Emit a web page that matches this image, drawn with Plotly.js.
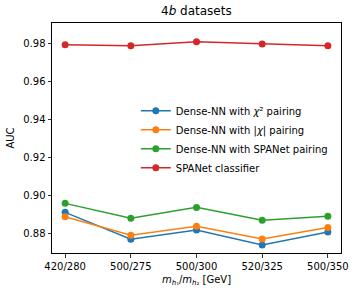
<!DOCTYPE html>
<html>
<head>
<meta charset="utf-8">
<script src="https://cdn.plot.ly/plotly-3.0.1.min.js"></script>
<style>html,body{margin:0;padding:0;background:#fff;}#chart{width:357px;height:294px;}</style>
</head>
<body>
<div id="chart"></div>
<script>
var categories = ["420/280", "500/275", "500/300", "520/325", "500/350"];
var chi2Values = [0.8913, 0.8772, 0.8821, 0.8742, 0.8810];
var absChiValues = [0.8890, 0.8793, 0.8840, 0.8774, 0.8833];
var spanetPairValues = [0.8960, 0.8882, 0.8939, 0.8871, 0.8892];
var spanetClassValues = [0.9791, 0.9786, 0.9807, 0.9795, 0.9786];
var seriesNames = ["Dense-NN with <i>χ</i>² pairing", "Dense-NN with |<i>χ</i>| pairing", "Dense-NN with SPANet pairing", "SPANet classifier"];
var colors = ["#1f77b4", "#ff7f0e", "#2ca02c", "#d62728"];
var yTicks = [0.88, 0.90, 0.92, 0.94, 0.96, 0.98];
var yTickText = ["0.88", "0.90", "0.92", "0.94", "0.96", "0.98"];

var xIdx = categories.map(function(_, i){ return i; });
var allVals = [chi2Values, absChiValues, spanetPairValues, spanetClassValues];
var traces = allVals.map(function(v, k){
  return {
    x: xIdx, y: v, name: seriesNames[k], type: "scatter", mode: "lines+markers",
    line: {color: colors[k], width: 1.5},
    marker: {color: colors[k], size: 7}
  };
});
var font = {family: "DejaVu Sans, sans-serif", size: 10, color: "#000"};
var layout = {
  width: 357, height: 294,
  margin: {l: 52, r: 16, t: 23, b: 41},
  paper_bgcolor: "#fff", plot_bgcolor: "#fff",
  font: font,
  showlegend: true,
  title: {text: "4<i>b</i> datasets", font: {family: "DejaVu Sans, sans-serif", size: 12, color: "#000"}, x: 0.55, xanchor: "center", y: 0.962, yanchor: "middle"},
  xaxis: {
    range: [-0.2, 4.2], tickmode: "array", tickvals: xIdx, ticktext: categories,
    showgrid: false, zeroline: false, showline: true, mirror: true, linecolor: "#000", linewidth: 1,
    ticks: "outside", ticklen: 3.5, tickcolor: "#000", tickwidth: 0.8, tickfont: font,
    title: {text: "<i>m</i><sub><i>h</i>₁</sub>/<i>m</i><sub><i>h</i>₂</sub> [GeV]", font: font, standoff: 5}
  },
  yaxis: {
    range: [0.8700, 0.9905], tickmode: "array", tickvals: yTicks, ticktext: yTickText,
    showgrid: false, zeroline: false, showline: true, mirror: true, linecolor: "#000", linewidth: 1,
    ticks: "outside", ticklen: 3.5, tickcolor: "#000", tickwidth: 0.8, tickfont: font,
    title: {text: "AUC", font: font, standoff: 6}
  },
  legend: {x: 0.29, y: 0.682, xanchor: "left", yanchor: "top", bgcolor: "rgba(255,255,255,0)", font: font, tracegroupgap: 0, itemwidth: 30}
};
Plotly.newPlot("chart", traces, layout, {displayModeBar: false, staticPlot: true});
</script>
</body>
</html>
